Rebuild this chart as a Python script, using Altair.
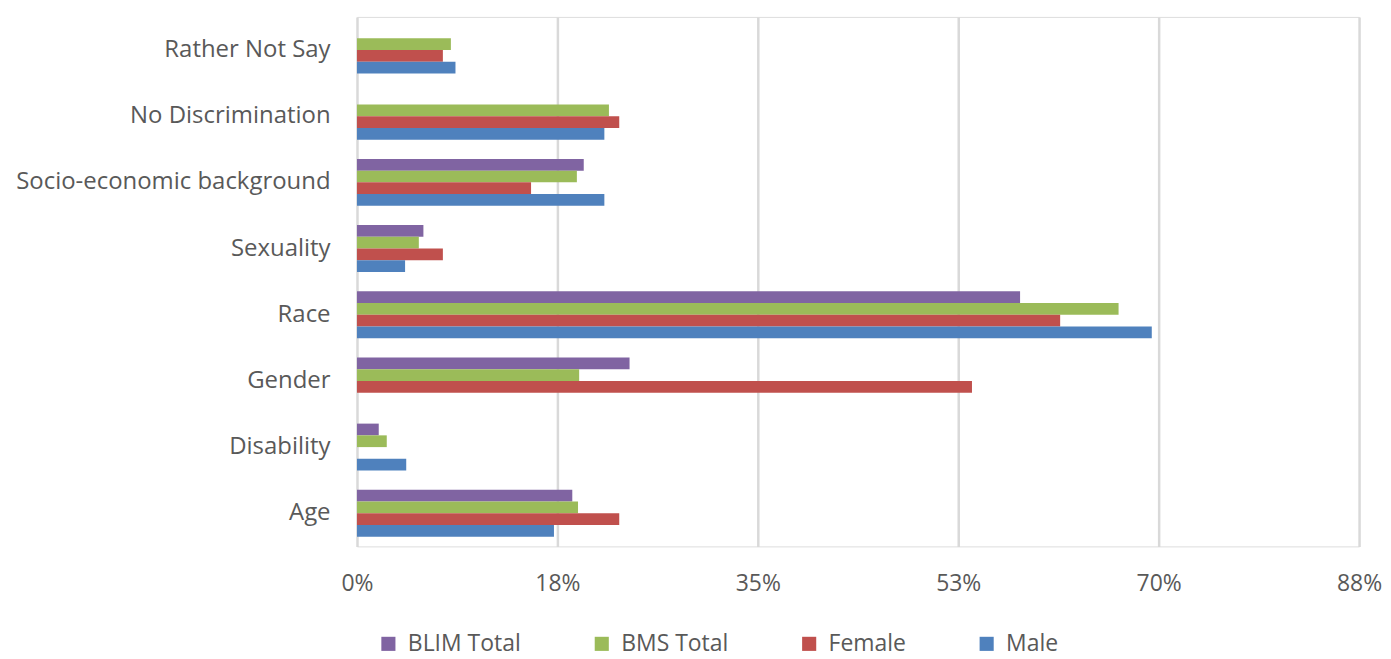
import altair as alt
import pandas as pd

categories = ["Rather Not Say", "No Discrimination", "Socio-economic background",
              "Sexuality", "Race", "Gender", "Disability", "Age"]
series = ["BLIM Total", "BMS Total", "Female", "Male"]
colors = ["#8064A2", "#9BBB59", "#C0504D", "#4F81BD"]

# values in percent, same order as categories; None = no bar
blim_total = [None, None, 19.8, 5.8, 57.9, 23.8, 1.9, 18.8]
bms_total = [8.2, 22.0, 19.2, 5.4, 66.5, 19.4, 2.6, 19.3]
female = [7.5, 22.9, 15.2, 7.5, 61.4, 53.7, None, 22.9]
male = [8.6, 21.6, 21.6, 4.2, 69.4, None, 4.3, 17.2]

tick_values = [0, 17.5, 35, 52.5, 70, 87.5]

rows = []
for name, vals in zip(series, [blim_total, bms_total, female, male]):
    for cat, v in zip(categories, vals):
        if v is not None:
            rows.append({"category": cat, "series": name, "value": v})
df = pd.DataFrame(rows)

font = "Open Sans"
gray = "#595959"

chart = alt.Chart(df).mark_bar().encode(
    x=alt.X("value:Q",
            scale=alt.Scale(domain=[0, 87.5], nice=False, zero=True),
            axis=alt.Axis(values=tick_values, labelExpr="round(datum.value) + '%'",
                          title=None, grid=True, gridColor="#D9D9D9", gridWidth=2.5,
                          domain=False, ticks=False, labelFont=font, labelFontSize=23,
                          labelColor=gray, labelPadding=26, labelFlush=False,
                          labelOverlap=False)),
    y=alt.Y("category:N", sort=categories,
            scale=alt.Scale(paddingInner=0.29, paddingOuter=0.145),
            axis=alt.Axis(title=None, domain=False, ticks=False, grid=False,
                          labelFont=font, labelFontSize=24, labelColor=gray,
                          labelPadding=27, labelLimit=400)),
    yOffset=alt.YOffset("series:N", sort=series, scale=alt.Scale(domain=series, paddingInner=0, paddingOuter=0)),
    color=alt.Color("series:N", scale=alt.Scale(domain=series, range=colors),
                    legend=alt.Legend(title=None, orient="none", legendX=20, legendY=617,
                                      direction="horizontal", columns=4, columnPadding=69,
                                      symbolType="square", symbolSize=200, symbolStrokeWidth=0,
                                      labelFont=font, labelFontSize=23, labelColor=gray,
                                      labelOffset=8, labelLimit=300)),
).properties(
    width=1005, height=531,
    autosize=alt.AutoSizeParams(type="none"),
    padding={"left": 350, "top": 8, "right": 24, "bottom": 110},
).configure_view(stroke=None).configure(background="white")

chart.save("out.html", embed_options={"renderer": "svg", "actions": False})
